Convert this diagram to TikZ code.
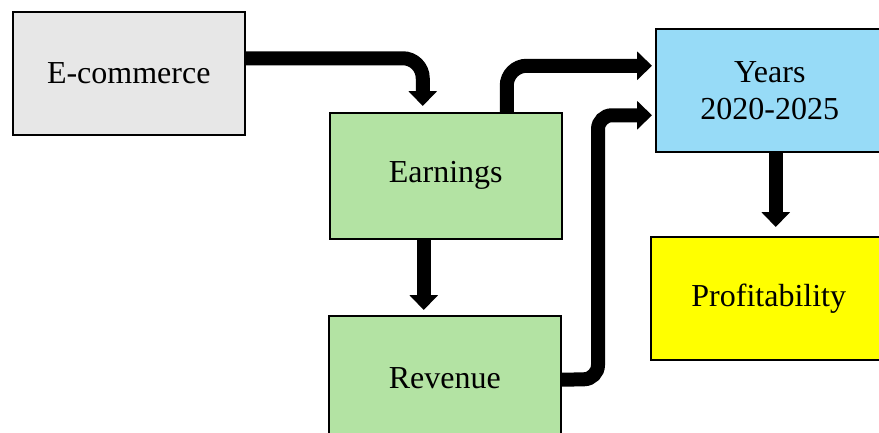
\documentclass[tikz,border=0pt]{standalone}
\usepackage{fontspec}
\setmainfont{Liberation Serif}
\usetikzlibrary{arrows.meta}
\definecolor{boxgray}{HTML}{E7E7E7}
\definecolor{boxgreen}{HTML}{B3E3A3}
\definecolor{boxblue}{HTML}{97DBF7}
\definecolor{boxyellow}{HTML}{FFFF00}
\begin{document}
\begin{tikzpicture}[x=1pt,y=-1pt,
  box/.style={draw=black,line width=1.5pt,anchor=north west,inner sep=0pt,
    font=\fontsize{32}{37}\selectfont,align=center},
  flow/.style={line width=14pt,-{Triangle[width=28pt,length=15pt]},rounded corners=20pt}]
\useasboundingbox (0,0) rectangle (879,432);
\node[box,fill=boxgray,minimum width=232pt,minimum height=123pt] (ecom) at (12,11) {E-commerce};
\node[box,fill=boxgreen,minimum width=232pt,minimum height=126pt] (earn) at (329,112) {Earnings};
\node[box,fill=boxgreen,minimum width=232pt,minimum height=124pt] (rev) at (328,315) {Revenue};
\node[box,fill=boxblue,minimum width=228pt,minimum height=123pt] (years) at (655,28) {Years\\2020-2025};
\node[box,fill=boxyellow,minimum width=236pt,minimum height=123pt] (prof) at (650,236) {Profitability};
\coordinate (bend) at (598,379);
\draw[flow,shorten >=6pt] ([yshift=15pt]ecom.east) -| ([xshift=-23pt]earn.north);
\draw[flow,shorten >=3pt] ([xshift=61pt]earn.north) |- ([yshift=24.5pt]years.west);
\draw[flow,shorten >=3pt,rounded corners=14pt] ([yshift=-2pt]rev.east) -- (bend) |- ([yshift=-25pt]years.west);
\draw[flow,shorten >=5pt] ([xshift=-22pt]earn.south) -- ([xshift=-22pt]earn.south |- rev.north);
\draw[flow,shorten >=9pt] ([xshift=6pt]years.south) -- ([xshift=6pt]years.south |- prof.north);
\end{tikzpicture}
\end{document}
